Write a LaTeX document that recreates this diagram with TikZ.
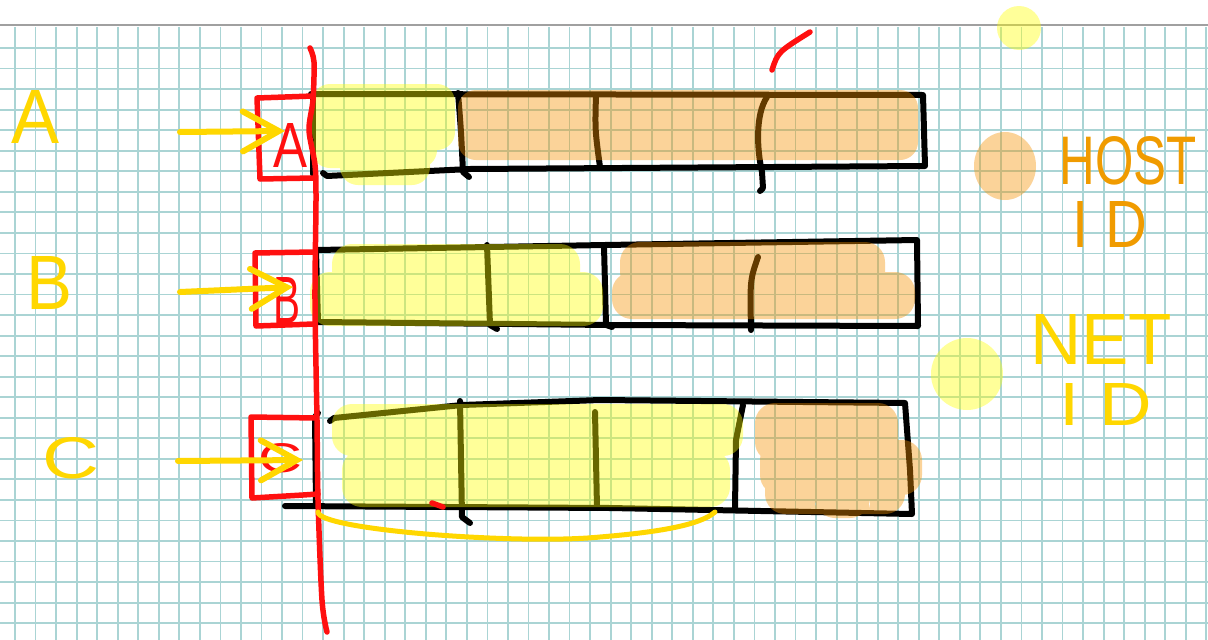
\documentclass[tikz,border=0pt]{standalone}
\usepackage{fontspec}
\setmainfont{Liberation Sans}
\usetikzlibrary{arrows.meta}
\definecolor{gridc}{RGB}{170,212,212}
\definecolor{topline}{RGB}{160,160,160}
\definecolor{hlY}{RGB}{255,255,0}
\definecolor{hlO}{RGB}{247,145,0}
\definecolor{penR}{RGB}{255,16,16}
\definecolor{penY}{RGB}{255,215,0}
\definecolor{penO}{RGB}{240,155,0}
\tikzset{
  pen/.style={line width=6pt, line cap=round, line join=round},
  blk/.style={pen, draw=black},
  redpen/.style={pen, draw=penR, line width=5.5pt},
  ylwpen/.style={pen, draw=penY},
  hlyel/.style={fill=hlY, fill opacity=0.4},
  hlorg/.style={fill=hlO, fill opacity=0.4},
  gridline/.style={draw=gridc, line width=1.8pt},
  lab/.style={inner sep=0pt, outer sep=0pt},
  ylab/.style={lab, text=penY},
  olab/.style={lab, text=penO},
  rlab/.style={lab, text=penR},
  ptr/.style={ylwpen, -{Straight Barb[length=36pt,width=40pt,line cap=round]}}
}
\begin{document}
\begin{tikzpicture}[x=1pt,y=-1pt]
\useasboundingbox (0,0) rectangle (1208,640);
\fill[white] (0,0) rectangle (1208,640);
\begin{scope}
\clip (0,0) rectangle (1208,640);
% grid paper
\foreach \i in {0,...,58} \draw[gridline] ({15+20.54*\i},27) -- ({15+20.54*\i},640);
\foreach \k in {1,...,29} \draw[gridline] (0,{27.5+20.54*\k}) -- (1208,{27.5+20.54*\k});
\draw[topline, line width=1.5pt] (0,25) -- (1208,25);

% ---------- black outlines (row A)
\draw[blk] (311,94) -- (923,95) -- (925,166) -- (470,169) -- (327,176) -- (323,173);
\draw[blk] (313,96) -- (313,174);
\draw[blk] (458,93) .. controls (461,130) .. (463,172) -- (469,177);
\draw[blk] (596,95) .. controls (595,130) .. (600,167);
\draw[blk] (767,97) .. controls (755,115) and (757,150) .. (762,172) -- (763,188) -- (760,191);
% ---------- row B
\draw[blk] (316,250) -- (605,245) -- (917,240) -- (918,326) -- (610,325) -- (318,322) -- cycle;
\draw[blk] (487,245) -- (490,325) -- (497,329);
\draw[blk] (604,246) -- (606,325) -- (612,327);
\draw[blk] (758,257) .. controls (750,280) .. (751,330);
% ---------- row C
\draw[blk] (318,413) -- (315,417) -- (316,505);
\draw[blk] (330,421) -- (334,418) -- (462,405) -- (600,400) -- (905,403) -- (910,470) -- (912,514) -- (610,508) -- (285,506);
\draw[blk] (460,401) -- (462,517) -- (470,523);
\draw[blk] (595,412) -- (597,508);
\draw[blk] (743,405) -- (736,440) -- (735,508);

% ---------- highlighter fills
\fill[hlyel, rounded corners=18pt]
  (312,84) rectangle (455,150)
  (312,130) rectangle (437,168)
  (340,148) rectangle (430,185);
\fill[hlorg, rounded corners=18pt] (458,90) rectangle (918,160);
\fill[hlyel, rounded corners=20pt]
  (332,244) rectangle (580,292)
  (310,272) rectangle (603,326);
\fill[hlorg, rounded corners=20pt]
  (620,242) rectangle (885,292)
  (612,272) rectangle (915,319);
\fill[hlyel, rounded corners=20pt]
  (332,404) rectangle (743,456)
  (342,450) rectangle (730,507);
\fill[hlorg, rounded corners=20pt]
  (755,403) rectangle (898,462)
  (760,440) rectangle (922,495)
  (765,470) rectangle (905,514)
  (815,490) rectangle (870,518);

% ---------- legend blobs
\fill[hlyel] (1019,28) circle (22);
\fill[hlorg] (1005,166) ellipse (31 and 34);
\fill[hlyel] (967,374) circle (36);

% ---------- red pen
\draw[redpen] plot[smooth] coordinates {(310,48) (314,62) (313,100) (309,130) (315,165) (316,200) (315,300) (317,420) (318,500) (322,600) (327,632)};
\draw[redpen] (313,96) -- (257,98) -- (260,179) -- (313,178);
\draw[redpen] (314,252) -- (255,253) -- (256,326) -- (314,324);
\draw[redpen] (316,418) -- (251,417) -- (252,498) -- (303,495) -- (318,494);
\draw[redpen] (772,70) .. controls (778,52) .. (810,32);
\draw[redpen] (432,503) -- (443,507);
\node[rlab] (boxA) at (291,145) {\resizebox{34pt}{44pt}{A}};
\node[rlab] (boxB) at (287,300) {\resizebox{27pt}{46pt}{B}};
\node[rlab] (boxC) at (281,458) {\resizebox{44pt}{29pt}{C}};

% ---------- yellow labels and arrows
\node[ylab] (labA) at (36,117) {\resizebox{48pt}{53pt}{A}};
\node[ylab] (labB) at (50,283) {\resizebox{46pt}{53pt}{B}};
\node[ylab] (labC) at (71,458) {\resizebox{57pt}{41pt}{C}};
\coordinate (srcA) at (180,132);
\coordinate (tipA) at (285,131);
\coordinate (srcB) at (180,292);
\coordinate (tipB) at (293,287);
\coordinate (srcC) at (178,461);
\coordinate (tipC) at (303,460);
\draw[ptr] (srcA) -- (tipA);
\draw[ptr] (srcB) -- (tipB);
\draw[ptr] (srcC) -- (tipC);
\coordinate (braceL) at (318,512);
\coordinate (braceR) at (715,512);
\draw[ylwpen, line width=5pt] (braceL) .. controls (318,530) and (520,545) .. (600,537) .. controls (660,532) and (700,525) .. (braceR);

% ---------- legend texts
\node[olab] (host) at (1128,161) {\resizebox{137pt}{48pt}{HOST}};
\node[olab] (hostid) at (1110,224) {\resizebox{74pt}{46pt}{I D}};
\node[ylab] (net) at (1101,339) {\resizebox{142pt}{50pt}{NET}};
\node[ylab] (netid) at (1106,404) {\resizebox{93pt}{42pt}{I D}};
\end{scope}
\end{tikzpicture}
\end{document}
